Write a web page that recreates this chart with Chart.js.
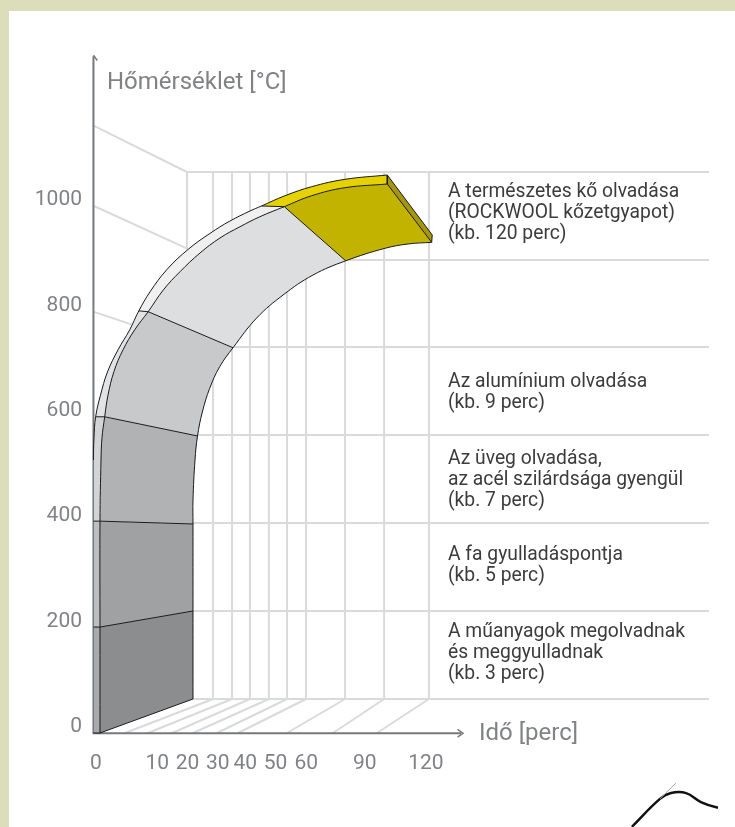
<!DOCTYPE html>
<html lang="hu">
<head>
<meta charset="utf-8">
<title>Hőmérséklet és idő</title>
<script src="https://cdn.jsdelivr.net/npm/chart.js@4/dist/chart.umd.js"></script>
<style>
    html, body { margin: 0; padding: 0; background: #dcddbb; overflow: hidden; }
    #panel { position: absolute; left: 9px; top: 11px; width: 726px; height: 816px; background: #fff; }
    #chart { position: absolute; left: 0; top: 0; }
</style>
</head>
<body>
<div id="panel"></div>
<canvas id="chart" width="735" height="827"></canvas>
<script>
// Tick values and labels
const tempTicks = [0, 200, 400, 600, 800, 1000];
const timeLabels = ['0', '10', '20', '30', '40', '50', '60', '90', '120'];
const timeTickPos = [0.7, 23, 34, 45, 55, 66, 77.2, 98.5, 120.7];

// Back wall and floor lines
const wallTemps = [64.5, 231.5, 398.5, 565.5, 732.5, 897.5, 1064.5];
const wallTimes = [43.3, 50.2, 56.7, 63.6, 70.2, 77.1, 91.3, 105.5, 121.8];
const floorTimes = [11.3, 19.6, 28.4, 36, 44.7, 52.4, 70.2, 86.9, 102.9];

// The three edges of the curved band as [time, temperature]
const outerEdge = [[-0.2, 0], [-0.2, 201], [-0.2, 402], [-0.2, 518], [0, 560], [0.6, 600], [2.36, 641], [4.9, 685],
    [8.73, 727], [12.98, 765], [16.3, 801], [20.36, 837], [26.44, 879], [34.3, 918], [42.18, 948], [49.45, 971.5],
    [56.73, 990.5], [60.9, 1000], [69.45, 1019.5], [79.16, 1036.6], [91.27, 1050.6], [106.65, 1058.8]];
const midEdge = [[2.18, 0], [2.18, 201], [2.18, 402], [2.55, 518], [2.91, 560], [3.89, 600], [5.09, 641], [7.27, 686],
    [10.55, 727], [14.8, 765], [19.7, 799.4], [25.2, 840.6], [31.27, 875.3], [38.55, 910.8], [45.82, 939.3],
    [53.1, 960.7], [60.36, 979.7], [69.2, 998.7], [79.16, 1019.5], [91.27, 1034.7], [106.65, 1041.7]];
const innerEdge = [[36, 64.5], [36, 231.5], [36, 396.6], [36, 442], [36.73, 518], [37.64, 563.6], [39.4, 609], [42.07, 654],
    [45.71, 695], [50.55, 731], [59.16, 787.5], [68.73, 831], [79.64, 869], [91.53, 896], [105.8, 919.7],
    [114.2, 927.9], [122.8, 931]];
const sideEnd = [[123, 945], [122.8, 931]];

// Where each edge is cut between two bands
const outerCuts = [0, 1, 2, 5, 10, 17, 21];
const midCuts = [0, 1, 2, 5, 10, 17, 20];
const innerCuts = [0, 1, 2, 5, 9, 13, 16];

const faceColors = ['#8c8d8f', '#a0a1a3', '#b0b2b4', '#c8c9cb', '#dddee0', '#c1b300'];
const stripColors = ['#a9aaac', '#bdbec0', '#d3d4d6', '#e2e3e5', '#f0f0f1', '#e6d200'];

const notes = [
    ['A természetes kő olvadása', '(ROCKWOOL kőzetgyapot)', '(kb. 120 perc)'],
    ['Az alumínium olvadása', '(kb. 9 perc)'],
    ['Az üveg olvadása,', 'az acél szilárdsága gyengül', '(kb. 7 perc)'],
    ['A fa gyulladáspontja', '(kb. 5 perc)'],
    ['A műanyagok megolvadnak', 'és meggyulladnak', '(kb. 3 perc)']
];

// The bit of hand drawn line cut off in the bottom right corner
const scribble = [[195.6, -178], [205.8, -125], [209.8, -114], [215.3, -114], [220.7, -131], [226.9, -142], [232.4, -146]];
const scribbleTick = [[205.8, -125], [211.6, -95]];

const TEMP_MAX = 1286.5;
const TIME_MAX = 223.64;
const AXIS_GREY = '#77787b';
const TEXT_GREY = '#808285';
const WALL_GREY = '#d9dadb';
const EDGE_BLACK = '#1a1a1a';
const FONT = 'Roboto';
const NOTE_X = 448;
const NOTE_LINE = 21;
const NOTE_FIRST = [192, 382, 459, 555, 632];

const toPoints = list => list.map(p => ({ x: p[0], y: p[1] }));

function lineSet(list, color, width, tension = 0) {
    return { data: toPoints(list), borderColor: color, borderWidth: width, tension, clip: false };
}

// A filled closed shape out of edges: every corner is doubled so that the smoothing stays off it
function shape(edges, fillColor) {
    const pts = [];
    edges.forEach(edge => {
        pts.push(edge[0], ...edge, edge[edge.length - 1]);
    });
    pts.push(edges[0][0], edges[0][0]);
    return {
        data: toPoints(pts),
        backgroundColor: fillColor,
        borderWidth: 0,
        fill: 'shape',
        tension: 0.4,
        clip: false
    };
}

function buildDatasets() {
    const sets = [];

    wallTemps.forEach((t, i) => {
        const start = i === 0 ? 36 : 33.8;
        sets.push(lineSet([[start, t], [TIME_MAX, t]], WALL_GREY, 2));
    });
    wallTimes.forEach(t => sets.push(lineSet([[t, 64.5], [t, 1064.5]], WALL_GREY, 2)));
    floorTimes.forEach((t, i) => sets.push(lineSet([[t, 0], [wallTimes[i], 64.5]], WALL_GREY, 2)));
    sets.push(lineSet([[33.8, 1064.5], [33.8, 918]], WALL_GREY, 2));
    sets.push(lineSet([[0, 1152], [33.8, 1064.5]], WALL_GREY, 2));
    sets.push(lineSet([[0, 1000], [34.3, 918]], WALL_GREY, 2));
    sets.push(lineSet([[0, 799], [33.8, 740]], WALL_GREY, 2));

    // Axes with their arrow heads
    sets.push(lineSet([[-0.2, 0], [-0.2, 1284]], AXIS_GREY, 2));
    sets.push(lineSet([[-1.6, 1276], [-0.2, 1286], [1.2, 1276]], AXIS_GREY, 1.5));
    sets.push(lineSet([[-0.5, -0.5], [133.5, -0.5]], AXIS_GREY, 2));
    sets.push(lineSet([[132.2, 7], [134.2, -0.5], [132.2, -8]], AXIS_GREY, 1.5));

    // Thin strip and main face, band by band
    faceColors.forEach((color, i) => {
        const outer = outerEdge.slice(outerCuts[i], outerCuts[i + 1] + 1);
        const mid = midEdge.slice(midCuts[i], midCuts[i + 1] + 1);
        const inner = innerEdge.slice(innerCuts[i], innerCuts[i + 1] + 1);
        sets.push(shape([outer, [...mid].reverse()], stripColors[i]));
        sets.push(shape([mid, [...inner].reverse()], color));
    });

    // Dark end of the yellow part
    const lastOuter = outerEdge[outerEdge.length - 1];
    const lastMid = midEdge[midEdge.length - 1];
    const lastInner = innerEdge[innerEdge.length - 1];
    sets.push(shape([[lastOuter, sideEnd[0]], [sideEnd[0], sideEnd[1]], [sideEnd[1], lastMid], [lastMid, lastOuter]], '#a5950f'));

    // Black outlines on top of the fills, the long edges in one smooth piece
    sets.push(lineSet(outerEdge, EDGE_BLACK, 1, 0.4));
    sets.push(lineSet(midEdge, EDGE_BLACK, 1, 0.4));
    sets.push(lineSet(innerEdge, EDGE_BLACK, 1, 0.4));
    outerCuts.forEach((cut, i) => {
        sets.push(lineSet([outerEdge[cut], midEdge[midCuts[i]], innerEdge[innerCuts[i]]], EDGE_BLACK, 1));
    });
    sets.push(lineSet([lastOuter, sideEnd[0], lastInner], EDGE_BLACK, 1));

    sets.push(lineSet(scribble, '#111111', 2.5, 0.4));
    sets.push(lineSet(scribbleTick, '#a8a8a8', 1));

    // Chart.js draws the first dataset on top
    return sets.reverse();
}

const chartTexts = {
    id: 'chartTexts',
    afterDraw(chart) {
        const ctx = chart.ctx;
        ctx.save();
        ctx.textBaseline = 'middle';
        ctx.textAlign = 'left';

        ctx.fillStyle = TEXT_GREY;
        ctx.font = `24px ${FONT}`;
        ctx.fillText('Hőmérséklet [°C]', 107, 83);
        ctx.fillText('Idő [perc]', 479, 734);

        ctx.fillStyle = '#3c3c3c';
        ctx.font = `19.3px ${FONT}`;
        notes.forEach((lines, i) => {
            lines.forEach((line, j) => ctx.fillText(line, NOTE_X, NOTE_FIRST[i] + j * NOTE_LINE));
        });
        ctx.restore();
    }
};

new Chart(document.getElementById('chart').getContext('2d'), {
    type: 'scatter',
    data: { datasets: buildDatasets() },
    plugins: [chartTexts],
    options: {
        responsive: false,
        animation: false,
        showLine: true,
        elements: { point: { radius: 0, hoverRadius: 0 } },
        layout: { padding: { left: 0, top: 55, right: 26, bottom: 0 } },
        plugins: { legend: { display: false }, tooltip: { enabled: false } },
        scales: {
            x: {
                type: 'linear',
                min: 0,
                max: TIME_MAX,
                grid: { display: false, drawTicks: false },
                border: { display: false },
                afterFit: s => { s.height = 94; },
                afterBuildTicks: s => { s.ticks = timeTickPos.map(v => ({ value: v })); },
                ticks: {
                    autoSkip: false,
                    maxRotation: 0,
                    padding: 18,
                    color: TEXT_GREY,
                    font: { family: FONT, size: 21 },
                    callback: (v, i) => timeLabels[i]
                }
            },
            y: {
                type: 'linear',
                min: 0,
                max: TEMP_MAX,
                grid: { display: false, drawTicks: false },
                border: { display: false },
                afterFit: s => { s.width = 94; },
                afterBuildTicks: s => { s.ticks = tempTicks.map(v => ({ value: v })); },
                ticks: {
                    autoSkip: false,
                    padding: 12,
                    labelOffset: -6,
                    color: TEXT_GREY,
                    font: { family: FONT, size: 21 },
                    callback: v => String(v)
                }
            }
        }
    }
});
</script>
</body>
</html>
